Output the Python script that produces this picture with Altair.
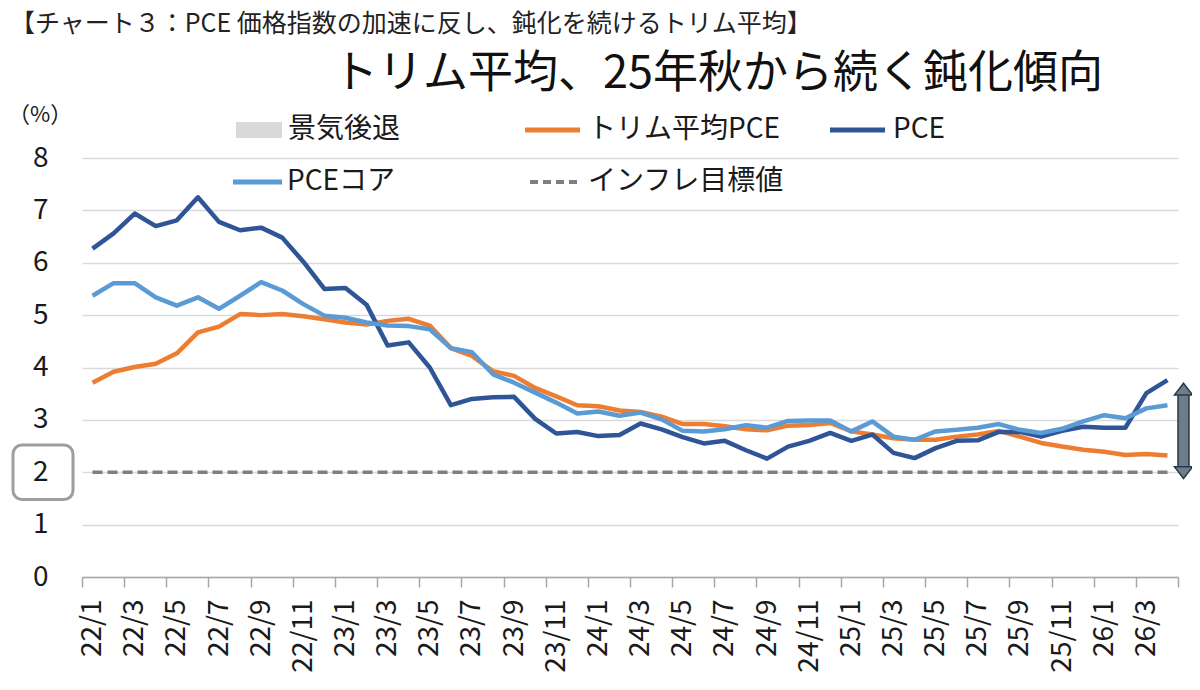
import json
import altair as alt
import pandas as pd

# ---------------- data ----------------
months = [
    "22/1", "22/2", "22/3", "22/4", "22/5", "22/6", "22/7", "22/8", "22/9", "22/10", "22/11", "22/12",
    "23/1", "23/2", "23/3", "23/4", "23/5", "23/6", "23/7", "23/8", "23/9", "23/10", "23/11", "23/12",
    "24/1", "24/2", "24/3", "24/4", "24/5", "24/6", "24/7", "24/8", "24/9", "24/10", "24/11", "24/12",
    "25/1", "25/2", "25/3", "25/4", "25/5", "25/6", "25/7", "25/8", "25/9", "25/10", "25/11", "25/12",
    "26/1", "26/2", "26/3", "26/4",
]
trim_pce = [
    3.71, 3.92, 4.01, 4.07, 4.27, 4.67, 4.78, 5.02, 5.00, 5.02, 4.98, 4.92,
    4.86, 4.82, 4.89, 4.93, 4.80, 4.37, 4.22, 3.93, 3.84, 3.61, 3.45, 3.28,
    3.26, 3.18, 3.15, 3.06, 2.92, 2.92, 2.88, 2.82, 2.80, 2.89, 2.90, 2.94,
    2.78, 2.72, 2.65, 2.62, 2.62, 2.68, 2.72, 2.79, 2.68, 2.56, 2.49, 2.43,
    2.39, 2.33, 2.35, 2.32,
]
pce = [
    6.27, 6.56, 6.94, 6.70, 6.81, 7.25, 6.78, 6.62, 6.67, 6.48, 6.02, 5.50,
    5.52, 5.20, 4.42, 4.48, 4.00, 3.28, 3.40, 3.43, 3.44, 3.02, 2.74, 2.77,
    2.69, 2.71, 2.93, 2.82, 2.67, 2.55, 2.60, 2.42, 2.26, 2.49, 2.60, 2.75,
    2.60, 2.72, 2.37, 2.27, 2.46, 2.60, 2.61, 2.77, 2.77, 2.68, 2.79, 2.87,
    2.85, 2.85, 3.51, 3.76,
]
pce_core = [
    5.37, 5.61, 5.61, 5.34, 5.18, 5.34, 5.12, 5.37, 5.63, 5.47, 5.21, 4.99,
    4.95, 4.86, 4.80, 4.79, 4.73, 4.37, 4.29, 3.87, 3.71, 3.52, 3.33, 3.12,
    3.16, 3.08, 3.14, 3.01, 2.79, 2.78, 2.82, 2.90, 2.85, 2.98, 2.99, 2.99,
    2.78, 2.97, 2.68, 2.62, 2.78, 2.81, 2.85, 2.92, 2.81, 2.75, 2.83, 2.97,
    3.09, 3.03, 3.22, 3.28,
]
inflation_target = 2.0
y_ticks = [0, 1, 2, 3, 4, 5, 6, 7, 8]

header_text = "【チャート３：PCE 価格指数の加速に反し、鈍化を続けるトリム平均】"
title_text = "トリム平均、25年秋から続く鈍化傾向"
unit_text = "（%）"
legend_labels = ["景気後退", "トリム平均PCE", "PCE", "PCEコア", "インフレ目標値"]

# annotation (double arrow at the right edge, box round "2")
arrow_range = [1.88, 3.70]
box_range = [1.48, 2.52]

# ---------------- style ----------------
FONT = "Noto Sans CJK JP"
C_TRIM = "#ED7D31"
C_PCE = "#2F5597"
C_CORE = "#5B9BD5"
C_TARGET = "#7F7F7F"
C_REC = "#D9D9D9"
C_AXIS = "#A6A6A6"
W, H = 1096, 419
n = len(months)
band = W / n

df = pd.DataFrame({
    "pos": [i + 0.5 for i in range(n)],
    "trim": trim_pce,
    "pce": pce,
    "core": pce_core,
    "target": [inflation_target] * n,
})

label_expr = f"datum.value < {n} ? {json.dumps(months, ensure_ascii=False)}[datum.value] : ''"

x_enc = alt.X(
    "pos:Q",
    scale=alt.Scale(domain=[0, n], nice=False, zero=False),
    axis=alt.Axis(
        values=list(range(0, n + 1, 2)),
        labelExpr=label_expr,
        labelAngle=270,
        labelAlign="right",
        labelBaseline="middle",
        labelOffset=band / 2,
        labelPadding=12,
        labelFontSize=28,
        labelFont=FONT,
        labelColor="#1A1A1A",
        labelOverlap=False,
        labelFlush=False,
        grid=False,
        domainColor=C_AXIS,
        domainWidth=1.5,
        tickColor=C_AXIS,
        tickWidth=1.5,
        tickSize=10,
        title=None,
    ),
)
y_scale = alt.Scale(domain=[0, 8], nice=False, zero=True)
y_axis = alt.Axis(
    values=y_ticks,
    grid=True,
    gridColor="#D9D9D9",
    gridWidth=1.3,
    domain=False,
    ticks=False,
    labelFontSize=28,
    labelFont=FONT,
    labelColor="#1A1A1A",
    labelPadding=34,
    title=None,
)


def Y(field):
    return alt.Y(field, scale=y_scale, axis=y_axis, title=None)


base = alt.Chart(df)

target_line = base.mark_line(color=C_TARGET, strokeWidth=3.5, strokeDash=[10, 5]).encode(
    x=x_enc, y=Y("target:Q")
)
trim_line = base.mark_line(color=C_TRIM, strokeWidth=4.5, strokeJoin="round").encode(
    x="pos:Q", y=Y("trim:Q")
)
pce_line = base.mark_line(color=C_PCE, strokeWidth=4.5, strokeJoin="round").encode(
    x="pos:Q", y=Y("pce:Q")
)
core_line = base.mark_line(color=C_CORE, strokeWidth=4.5, strokeJoin="round").encode(
    x="pos:Q", y=Y("core:Q")
)

# double arrow
arr = pd.DataFrame({"lo": [arrow_range[0]], "hi": [arrow_range[1]],
                    "slo": [arrow_range[0] + 0.2], "shi": [arrow_range[1] - 0.2]})
ARROW_FILL = "#6E7D8C"
ARROW_STROKE = "#27384A"
AX = W + 5.5
shaft = alt.Chart(arr).mark_rect(fill=ARROW_FILL, stroke=ARROW_STROKE, strokeWidth=1.5).encode(
    x=alt.value(AX - 5.5), x2=alt.value(AX + 5.5),
    y=Y("shi:Q"), y2="slo:Q",
)
head_up = alt.Chart(arr).mark_point(
    shape="M0,0L1,1.3L-1,1.3Z", size=324, filled=True, fill=ARROW_FILL,
    stroke=ARROW_STROKE, strokeWidth=1.5, opacity=1,
).encode(x=alt.value(AX), y=Y("hi:Q"))
head_dn = alt.Chart(arr).mark_point(
    shape="M0,0L1,-1.3L-1,-1.3Z", size=324, filled=True, fill=ARROW_FILL,
    stroke=ARROW_STROKE, strokeWidth=1.5, opacity=1,
).encode(x=alt.value(AX), y=Y("lo:Q"))

# rounded box around the "2" label
box_df = pd.DataFrame({"lo": [box_range[0]], "hi": [box_range[1]]})
box = alt.Chart(box_df).mark_rect(
    fillOpacity=0, stroke="#9E9E9E", strokeWidth=3, cornerRadius=9
).encode(x=alt.value(-69), x2=alt.value(-9), y=Y("hi:Q"), y2="lo:Q")


def text_layer(txt, x, y, size, align="left", baseline="middle", color="#1A1A1A"):
    return alt.Chart(pd.DataFrame({"t": [txt]})).mark_text(
        font=FONT, fontSize=size, align=align, baseline=baseline, color=color
    ).encode(x=alt.value(x), y=alt.value(y), text="t:N")


def rule_layer(x1, x2, y, color, width=5, dash=None):
    kw = dict(color=color, strokeWidth=width, strokeCap="butt")
    if dash:
        kw["strokeDash"] = dash
    return alt.Chart(pd.DataFrame({"a": [0]})).mark_rule(**kw).encode(
        x=alt.value(x1), x2=alt.value(x2), y=alt.value(y)
    )


header = text_layer(header_text, -72, -146, 25, baseline="top", color="#222222")
title = text_layer(title_text, 636, -70, 45, align="center", baseline="alphabetic", color="#111111")
unit = text_layer(unit_text, -42, -43, 22, align="center")

leg_rec = alt.Chart(pd.DataFrame({"a": [0]})).mark_rect(fill=C_REC).encode(
    x=alt.value(154), x2=alt.value(200), y=alt.value(-36), y2=alt.value(-20)
)
legend_layers = [
    leg_rec,
    text_layer(legend_labels[0], 206, -28, 28),
    rule_layer(443, 498, -28, C_TRIM),
    text_layer(legend_labels[1], 506, -28, 28),
    rule_layer(748, 803, -28, C_PCE),
    text_layer(legend_labels[2], 811, -28, 28),
    rule_layer(151, 200, 24, C_CORE),
    text_layer(legend_labels[3], 205, 24, 28),
    rule_layer(448, 498, 24, C_TARGET, width=4, dash=[8, 5]),
    text_layer(legend_labels[4], 506, 24, 28),
]

chart = alt.layer(
    target_line, trim_line, pce_line, core_line,
    shaft, head_up, head_dn, box,
    header, title, unit, *legend_layers,
).properties(
    width=W, height=H,
    autosize=alt.AutoSizeParams(type="none"),
    padding={"left": 74, "top": 150, "right": 14, "bottom": 100},
    background="white",
).configure_view(stroke=None)

chart.save("out.html", embed_options={"renderer": "svg", "actions": False})
